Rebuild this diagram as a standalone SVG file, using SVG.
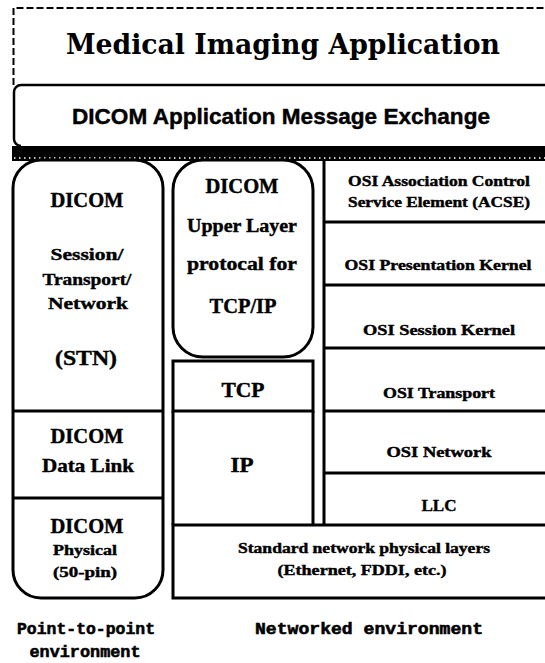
<svg xmlns="http://www.w3.org/2000/svg" width="545" height="663" viewBox="0 0 545 663">
<style>
.ln{fill:none;stroke:#000;stroke-width:3}
.t{font-family:"Liberation Serif",serif;font-weight:bold;text-anchor:middle;fill:#000;stroke:#000;stroke-width:0.4}
.s{font-family:"Liberation Sans",Arial,sans-serif;font-weight:bold;text-anchor:middle;fill:#000;stroke:#000;stroke-width:0.4}
.m{font-family:"Liberation Mono","DejaVu Sans Mono",monospace;font-weight:bold;text-anchor:middle;fill:#000;stroke:#000;stroke-width:0.6}
</style>
<rect width="545" height="663" fill="#fff"/>
<g id="app">
<path d="M13.5,85 V8 H548" fill="none" stroke="#000" stroke-width="2" stroke-dasharray="7,3"/>
<text x="283" y="54" font-family="'DejaVu Serif',serif" font-weight="bold" font-size="28" text-anchor="middle" textLength="434" lengthAdjust="spacingAndGlyphs">Medical Imaging Application</text>
</g>
<g id="msg">
<path d="M548,85 H21 A7,7 0 0 0 14,92 V139 A7,7 0 0 0 21,146" fill="none" stroke="#000" stroke-width="2.5"/>
<text class="s" x="281" y="124" font-size="22" textLength="418" lengthAdjust="spacingAndGlyphs">DICOM Application Message Exchange</text>
</g>
<g id="bar">
<rect x="12" y="146" width="540" height="15" fill="#000"/>
<line x1="14" y1="158" x2="545" y2="158" stroke="#fff" stroke-width="1.5" stroke-dasharray="1.5,3.5"/>
</g>
<g id="stn">
<path class="ln" d="M13,188 A28,28 0 0 1 41,160 H135 A28,28 0 0 1 163,188 V570 A28,28 0 0 1 135,598 H41 A28,28 0 0 1 13,570 Z"/>
<line class="ln" x1="13" y1="411" x2="163" y2="411"/>
<line class="ln" x1="13" y1="498" x2="163" y2="498"/>
<text class="t" x="87" y="207" font-size="20" textLength="73" lengthAdjust="spacingAndGlyphs">DICOM</text>
<text class="t" x="87" y="260" font-size="17" textLength="73" lengthAdjust="spacingAndGlyphs">Session/</text>
<text class="t" x="87" y="285" font-size="17" textLength="89" lengthAdjust="spacingAndGlyphs">Transport/</text>
<text class="t" x="88" y="309" font-size="17" textLength="80" lengthAdjust="spacingAndGlyphs">Network</text>
<text class="t" x="86" y="365" font-size="20" textLength="62" lengthAdjust="spacingAndGlyphs">(STN)</text>
</g>
<g id="datalink">
<text class="t" x="87" y="443" font-size="20" textLength="73" lengthAdjust="spacingAndGlyphs">DICOM</text>
<text class="t" x="88" y="472" font-size="19" textLength="92" lengthAdjust="spacingAndGlyphs">Data Link</text>
</g>
<g id="physical">
<text class="t" x="87" y="533" font-size="20" textLength="73" lengthAdjust="spacingAndGlyphs">DICOM</text>
<text class="t" x="85" y="555" font-size="14" textLength="64" lengthAdjust="spacingAndGlyphs">Physical</text>
<text class="t" x="85" y="577" font-size="14" textLength="64" lengthAdjust="spacingAndGlyphs">(50-pin)</text>
</g>
<g id="upper">
<rect class="ln" x="173" y="160" width="140" height="197" rx="30"/>
<text class="t" x="242" y="193" font-size="20" textLength="73" lengthAdjust="spacingAndGlyphs">DICOM</text>
<text class="t" x="242" y="232" font-size="18" textLength="110" lengthAdjust="spacingAndGlyphs">Upper Layer</text>
<text class="t" x="242" y="270" font-size="18" textLength="110" lengthAdjust="spacingAndGlyphs">protocal for</text>
<text class="t" x="243" y="313" font-size="20" textLength="67" lengthAdjust="spacingAndGlyphs">TCP/IP</text>
</g>
<g id="tcp">
<rect class="ln" x="173" y="361" width="140" height="50"/>
<text class="t" x="243" y="397" font-size="20" textLength="43" lengthAdjust="spacingAndGlyphs">TCP</text>
</g>
<g id="ip">
<path class="ln" d="M173,411 V525 M313,411 V525"/>
<text class="t" x="242" y="472" font-size="20" textLength="23" lengthAdjust="spacingAndGlyphs">IP</text>
</g>
<g id="osi">
<path class="ln" d="M324,160 V525 M324,222 H548 M324,285 H548 M324,348 H548 M324,411 H548 M324,473 H548"/>
<text class="t" x="439" y="186" font-size="14" textLength="182" lengthAdjust="spacingAndGlyphs">OSI Association Control</text>
<text class="t" x="439" y="207" font-size="14" textLength="182" lengthAdjust="spacingAndGlyphs">Service Element (ACSE)</text>
<text class="t" x="438" y="270" font-size="14" textLength="187" lengthAdjust="spacingAndGlyphs">OSI Presentation Kernel</text>
<text class="t" x="439" y="335" font-size="14" textLength="152" lengthAdjust="spacingAndGlyphs">OSI Session Kernel</text>
<text class="t" x="439" y="398" font-size="14" textLength="112" lengthAdjust="spacingAndGlyphs">OSI Transport</text>
<text class="t" x="439" y="457" font-size="14" textLength="105" lengthAdjust="spacingAndGlyphs">OSI Network</text>
<text class="t" x="439" y="511" font-size="16" textLength="35" lengthAdjust="spacingAndGlyphs">LLC</text>
</g>
<g id="phys">
<rect class="ln" x="173" y="525" width="380" height="73"/>
<text class="t" x="364" y="553" font-size="14" textLength="252" lengthAdjust="spacingAndGlyphs">Standard network physical layers</text>
<text class="t" x="362" y="575" font-size="14" textLength="169" lengthAdjust="spacingAndGlyphs">(Ethernet, FDDI, etc.)</text>
</g>
<g id="labels">
<text class="m" x="86" y="634" font-size="17" textLength="138" lengthAdjust="spacingAndGlyphs">Point-to-point</text>
<text class="m" x="85" y="657" font-size="17" textLength="111" lengthAdjust="spacingAndGlyphs">environment</text>
<text class="m" x="369" y="634" font-size="17" textLength="228" lengthAdjust="spacingAndGlyphs">Networked environment</text>
</g>
<g id="connectors"></g>
</svg>
